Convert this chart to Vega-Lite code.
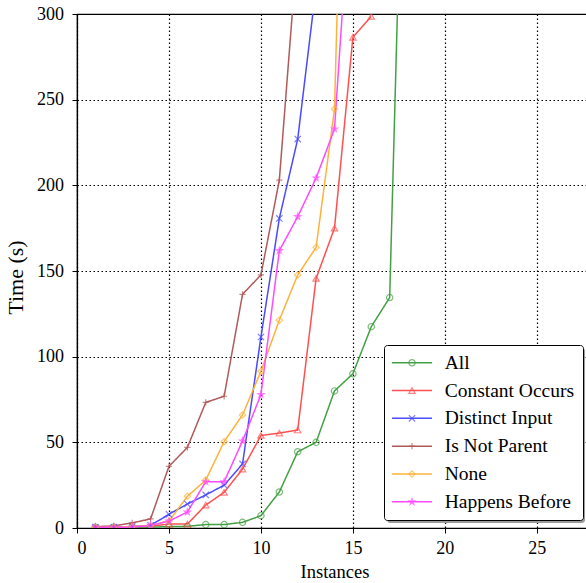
{
  "$schema": "https://vega.github.io/schema/vega-lite/v6.json",
  "autosize": {"type": "none"},
  "padding": {"left": 77, "top": 14, "right": 0, "bottom": 55},
  "width": 515,
  "height": 514,
  "background": "white",
  "config": {
    "view": {"stroke": "black", "strokeWidth": 1.2},
    "font": "Liberation Serif",
    "axis": {
      "labelFont": "Liberation Serif",
      "labelFontSize": 18,
      "labelColor": "black",
      "titleFont": "Liberation Serif",
      "titleFontWeight": "normal",
      "titleColor": "black",
      "domainColor": "black",
      "domainWidth": 1.2,
      "tickColor": "black",
      "tickSize": 5,
      "tickWidth": 1,
      "grid": true,
      "gridColor": "black",
      "gridOpacity": 1,
      "gridDash": [1.5, 2.5],
      "gridWidth": 1.2
    }
  },
  "data": {
    "values": [
      {"s": "All", "x": 1, "y": 0.5}, {"s": "All", "x": 2, "y": 0.5}, {"s": "All", "x": 3, "y": 0.5}, {"s": "All", "x": 4, "y": 0.5}, {"s": "All", "x": 5, "y": 0.8}, {"s": "All", "x": 6, "y": 1.0}, {"s": "All", "x": 7, "y": 2}, {"s": "All", "x": 8, "y": 2}, {"s": "All", "x": 9, "y": 3.3}, {"s": "All", "x": 10, "y": 7.2}, {"s": "All", "x": 11, "y": 21}, {"s": "All", "x": 12, "y": 44.5}, {"s": "All", "x": 13, "y": 50}, {"s": "All", "x": 14, "y": 80}, {"s": "All", "x": 15, "y": 90}, {"s": "All", "x": 16, "y": 117.5}, {"s": "All", "x": 17, "y": 134.5}, {"s": "All", "x": 18, "y": 530},
      {"s": "Constant Occurs", "x": 1, "y": 0.5}, {"s": "Constant Occurs", "x": 2, "y": 0.5}, {"s": "Constant Occurs", "x": 3, "y": 0.8}, {"s": "Constant Occurs", "x": 4, "y": 1}, {"s": "Constant Occurs", "x": 5, "y": 2.3}, {"s": "Constant Occurs", "x": 6, "y": 2.3}, {"s": "Constant Occurs", "x": 7, "y": 13.4}, {"s": "Constant Occurs", "x": 8, "y": 20.8}, {"s": "Constant Occurs", "x": 9, "y": 34.4}, {"s": "Constant Occurs", "x": 10, "y": 54}, {"s": "Constant Occurs", "x": 11, "y": 55.4}, {"s": "Constant Occurs", "x": 12, "y": 57.2}, {"s": "Constant Occurs", "x": 13, "y": 145.7}, {"s": "Constant Occurs", "x": 14, "y": 175}, {"s": "Constant Occurs", "x": 15, "y": 286.4}, {"s": "Constant Occurs", "x": 16, "y": 298.6},
      {"s": "Distinct Input", "x": 1, "y": 0.5}, {"s": "Distinct Input", "x": 2, "y": 0.6}, {"s": "Distinct Input", "x": 3, "y": 0.8}, {"s": "Distinct Input", "x": 4, "y": 1.5}, {"s": "Distinct Input", "x": 5, "y": 8}, {"s": "Distinct Input", "x": 6, "y": 14}, {"s": "Distinct Input", "x": 7, "y": 19.3}, {"s": "Distinct Input", "x": 8, "y": 25}, {"s": "Distinct Input", "x": 9, "y": 37.4}, {"s": "Distinct Input", "x": 10, "y": 111.5}, {"s": "Distinct Input", "x": 11, "y": 180.7}, {"s": "Distinct Input", "x": 12, "y": 227}, {"s": "Distinct Input", "x": 13, "y": 316},
      {"s": "Is Not Parent", "x": 1, "y": 0.8}, {"s": "Is Not Parent", "x": 2, "y": 1.2}, {"s": "Is Not Parent", "x": 3, "y": 3}, {"s": "Is Not Parent", "x": 4, "y": 5.3}, {"s": "Is Not Parent", "x": 5, "y": 36}, {"s": "Is Not Parent", "x": 6, "y": 47}, {"s": "Is Not Parent", "x": 7, "y": 73.3}, {"s": "Is Not Parent", "x": 8, "y": 76.9}, {"s": "Is Not Parent", "x": 9, "y": 136.4}, {"s": "Is Not Parent", "x": 10, "y": 147.7}, {"s": "Is Not Parent", "x": 11, "y": 203}, {"s": "Is Not Parent", "x": 12, "y": 341},
      {"s": "None", "x": 1, "y": 0.5}, {"s": "None", "x": 2, "y": 0.5}, {"s": "None", "x": 3, "y": 0.8}, {"s": "None", "x": 4, "y": 1.5}, {"s": "None", "x": 5, "y": 4}, {"s": "None", "x": 6, "y": 18.5}, {"s": "None", "x": 7, "y": 28}, {"s": "None", "x": 8, "y": 50.4}, {"s": "None", "x": 9, "y": 66}, {"s": "None", "x": 10, "y": 91.5}, {"s": "None", "x": 11, "y": 121.3}, {"s": "None", "x": 12, "y": 147.7}, {"s": "None", "x": 13, "y": 163.8}, {"s": "None", "x": 14, "y": 244.6}, {"s": "None", "x": 15, "y": 640},
      {"s": "Happens Before", "x": 1, "y": 0.5}, {"s": "Happens Before", "x": 2, "y": 0.5}, {"s": "Happens Before", "x": 3, "y": 0.5}, {"s": "Happens Before", "x": 4, "y": 1.5}, {"s": "Happens Before", "x": 5, "y": 4}, {"s": "Happens Before", "x": 6, "y": 9.3}, {"s": "Happens Before", "x": 7, "y": 27}, {"s": "Happens Before", "x": 8, "y": 27}, {"s": "Happens Before", "x": 9, "y": 50.8}, {"s": "Happens Before", "x": 10, "y": 77.9}, {"s": "Happens Before", "x": 11, "y": 161.9}, {"s": "Happens Before", "x": 12, "y": 181.7}, {"s": "Happens Before", "x": 13, "y": 204.3}, {"s": "Happens Before", "x": 14, "y": 232.9}, {"s": "Happens Before", "x": 15, "y": 393}
    ]
  },
  "encoding": {
    "x": {
      "field": "x", "type": "quantitative",
      "scale": {"domain": [0, 28], "nice": false, "zero": false},
      "axis": {"title": "Instances", "titleFontSize": 18.5, "values": [0, 5, 10, 15, 20, 25], "labelPadding": 6, "titlePadding": 5}
    },
    "y": {
      "field": "y", "type": "quantitative",
      "scale": {"domain": [0, 300], "nice": false, "zero": false},
      "axis": {"title": "Time (s)", "titleFontSize": 22, "titleY": 263, "values": [0, 50, 100, 150, 200, 250, 300], "labelPadding": 8.5, "titlePadding": 9}
    }
  },
  "layer": [
    {
      "mark": {"type": "line", "strokeWidth": 1.5, "clip": true},
      "encoding": {
        "strokeDash": {
          "field": "s", "type": "nominal",
          "scale": {
            "domain": ["Happens Before", "None", "Is Not Parent", "Distinct Input", "Constant Occurs", "All"],
            "range": [[1, 0], [1, 0], [1, 0], [1, 0], [1, 0], [1, 0]]
          },
          "legend": {
            "title": null,
            "orient": "none",
            "legendX": 310,
            "legendY": 334,
            "values": ["All", "Constant Occurs", "Distinct Input", "Is Not Parent", "None", "Happens Before"],
            "labelExpr": "''",
            "symbolType": "M-5,0L40.3,0",
            "symbolSize": 64,
            "symbolStrokeWidth": 1.5,
            "symbolOpacity": 0,
            "symbolOffset": 10.25,
            "labelOffset": 22.9,
            "labelFont": "Liberation Serif",
            "labelFontSize": 19.5,
            "rowPadding": 6.8,
            "padding": 8,
            "fillColor": "#9c9c9c",
            "cornerRadius": 3
          }
        },
        "color": {
          "field": "s", "type": "nominal",
          "scale": {
            "domain": ["All", "Constant Occurs", "Distinct Input", "Is Not Parent", "None", "Happens Before"],
            "range": ["#44a044", "#ff5050", "#4a4aff", "#b05a5a", "#ffb23a", "#ff4aff"]
          },
          "legend": {
            "title": null,
            "orient": "none",
            "legendX": 307,
            "legendY": 331,
            "symbolType": "M-5,0L5,0",
            "symbolSize": 64,
            "symbolStrokeWidth": 1.5,
            "symbolOffset": 10.25,
            "labelOffset": 22.9,
            "labelFont": "Liberation Serif",
            "labelFontSize": 19.5,
            "labelColor": "black",
            "rowPadding": 6.8,
            "padding": 8,
            "fillColor": "white",
            "strokeColor": "black",
            "cornerRadius": 3,
            "labelLimit": 300
          }
        }
      }
    },
    {
      "mark": {"type": "point", "filled": false, "size": 40, "strokeWidth": 1.2, "clip": true},
      "encoding": {
        "color": {
          "field": "s", "type": "nominal",
          "legend": {
            "title": null,
            "orient": "none",
            "legendX": 307,
            "legendY": 331,
            "labelExpr": "''",
            "symbolSize": 40,
            "symbolStrokeWidth": 1.2,
            "symbolOffset": 10.25,
            "labelOffset": 22.9,
            "labelFont": "Liberation Serif",
            "labelFontSize": 19.5,
            "rowPadding": 6.8,
            "padding": 8
          }
        },
        "shape": {
          "field": "s", "type": "nominal",
          "scale": {
            "domain": ["All", "Constant Occurs", "Distinct Input", "Is Not Parent", "None", "Happens Before"],
            "range": ["circle", "triangle-up", "M-1,-1L1,1M-1,1L1,-1", "M-1,0L1,0M0,-1L0,1", "diamond", "M0,-1L0.2245,-0.309L0.951,-0.309L0.363,0.118L0.588,0.809L0,0.382L-0.588,0.809L-0.363,0.118L-0.951,-0.309L-0.2245,-0.309Z"]
          },
          "legend": {
            "title": null,
            "orient": "none",
            "legendX": 307,
            "legendY": 331,
            "labelExpr": "''",
            "symbolSize": 40,
            "symbolStrokeWidth": 1.2,
            "symbolOffset": 10.25,
            "labelOffset": 22.9,
            "labelFont": "Liberation Serif",
            "labelFontSize": 19.5,
            "rowPadding": 6.8,
            "padding": 8
          }
        }
      }
    }
  ],
  "resolve": {"legend": {"color": "independent", "shape": "independent"}}
}
